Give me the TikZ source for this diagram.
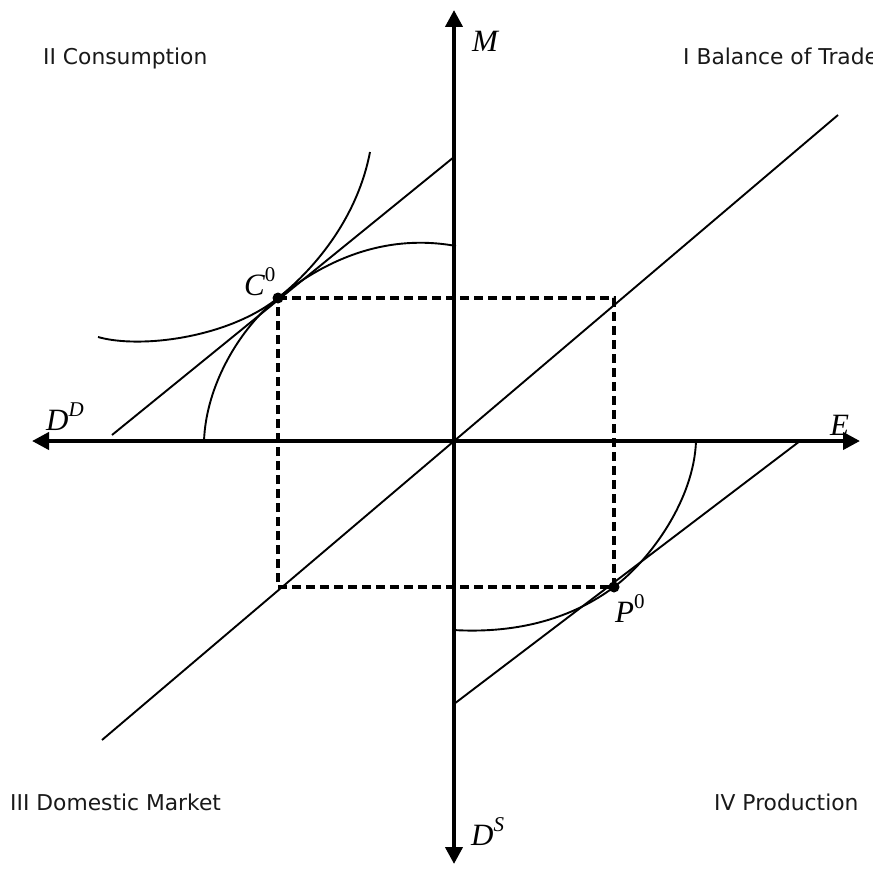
\documentclass[tikz,border=0pt]{standalone}
\usepackage{fontspec}
\setmainfont{DejaVu Sans}
\newfontfamily\tms{Liberation Serif}
\usetikzlibrary{arrows.meta}
\tikzset{
  axis/.style={line width=4pt,-{Triangle[length=17pt,width=17pt]}},
  thin line/.style={line width=1.9pt},
  dashbox/.style={line width=3.2pt,dash pattern=on 9pt off 5pt},
  quad/.style={font=\fontsize{21.8}{24}\selectfont,anchor=base west,inner sep=0pt,text=black!90},
  mlab/.style={font=\tms\fontsize{31}{34}\selectfont\itshape,anchor=base west,inner sep=0pt},
  dotpt/.style={fill=black,circle,inner sep=0pt,minimum size=11pt}
}
\newcommand{\supr}[1]{\raisebox{0.42em}{\fontsize{21}{22}\selectfont\upshape #1}}
\newcommand{\supi}[1]{\raisebox{0.42em}{\fontsize{21}{22}\selectfont #1}}
\begin{document}
\begin{tikzpicture}[x=1pt,y=-1pt]
\useasboundingbox (0,0) rectangle (872,872);
\clip (0,0) rectangle (872,872);
\fill[white] (0,0) rectangle (872,872);
% coordinates
\coordinate (O) at (454,441);
\coordinate (top) at (454,10);
\coordinate (bot) at (454,864);
\coordinate (lft) at (32,441);
\coordinate (rgt) at (860,441);
\coordinate (C0) at (278,298);
\coordinate (P0) at (614,587);
\coordinate (Q1) at (614,298);
\coordinate (Q3) at (278,587);
\coordinate (d1) at (102,740);
\coordinate (d2) at (838,115);
\coordinate (t1a) at (112,435);
\coordinate (t1b) at (454,157);
\coordinate (t4a) at (454,704);
\coordinate (t4b) at (800,441);
% 45 degree line
\draw[thin line] (d1) -- (d2);
% dashed rectangle
\draw[dashbox] (C0) -- (Q1) -- (P0) -- (Q3) -- cycle;
% tangent lines
\draw[thin line] (t1a) -- (t1b);
\draw[thin line] (t4a) -- (t4b);
% indifference curve
\draw[thin line] (98,337) .. controls (140,349) and (228,338) .. (C0)
  .. controls (318,266) and (358,215) .. (370,152);
% PPF in II
\draw[thin line] (204,441) .. controls (206,385) and (240,328) .. (C0)
  .. controls (330,256) and (390,234) .. (456,246);
% PPF in IV
\draw[thin line] (453,630) .. controls (520,634) and (574,617) .. (P0)
  .. controls (650,560) and (694,500) .. (696,441);
% axes
\draw[axis] (O) -- (top);
\draw[axis] (O) -- (bot);
\draw[axis] (O) -- (lft);
\draw[axis] (O) -- (rgt);
% points
\node[dotpt] (c0dot) at (C0) {};
\node[dotpt] (p0dot) at (P0) {};
% labels
\node[quad] (q2) at (43,65) {II Consumption};
\node[quad] (q1) at (683,65) {I Balance of Trade};
\node[quad] (q3) at (10,810) {III Domestic Market};
\node[quad] (q4) at (714,810) {IV Production};
\node[mlab] (lM) at (472,52) {M};
\node[mlab] (lE) at (830,435) {E};
\node[mlab] (lDD) at (46,430) {D\supi{D}};
\node[mlab] (lDS) at (471,845) {D\supi{S}};
\node[mlab] (lC) at (244,295) {C\supr{0}};
\node[mlab] (lP) at (615,622) {P\supr{0}};
\end{tikzpicture}
\end{document}
